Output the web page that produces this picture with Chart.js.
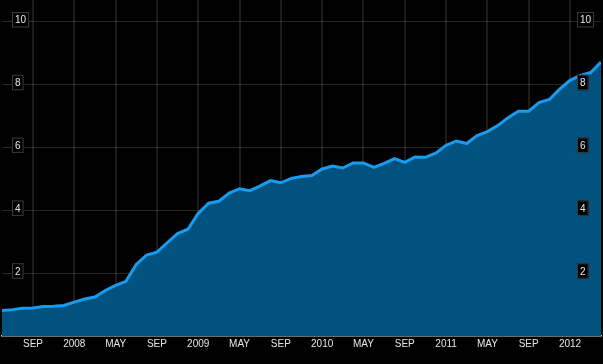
<!DOCTYPE html>
<html>
<head>
<meta charset="utf-8">
<script src="https://cdn.jsdelivr.net/npm/chart.js@4"></script>
<style>
  html, body { margin: 0; padding: 0; background: #000; }
  #wrap { width: 603px; height: 364px; }
</style>
</head>
<body>
<div id="wrap"><canvas id="data-chart" width="603" height="364"></canvas></div>
<script>
const FONT = "'Liberation Sans Narrow', 'Liberation Sans', sans-serif";

// monthly values, Jun 2007 .. Apr 2012
const values = [
    0.81, 0.84, 0.88, 0.89, 0.94, 0.95, 0.97, 1.08, 1.18, 1.24,
    1.45, 1.61, 1.74, 2.28, 2.58, 2.67, 2.97, 3.26, 3.40, 3.90,
    4.23, 4.29, 4.55, 4.69, 4.63, 4.78, 4.95, 4.88, 5.02, 5.08,
    5.11, 5.32, 5.41, 5.35, 5.51, 5.51, 5.37, 5.50, 5.65, 5.53,
    5.70, 5.69, 5.82, 6.07, 6.21, 6.13, 6.38, 6.51, 6.70, 6.95,
    7.16, 7.16, 7.43, 7.53, 7.86, 8.14, 8.30, 8.39, 8.72
];

// x tick positions (month index) and their labels
const xTickPos = [3, 7, 11, 15, 19, 23, 27, 31, 35, 39, 43, 47, 51, 55];
const xTickLabels = ["SEP", "2008", "MAY", "SEP", "2009", "MAY", "SEP", "2010", "MAY", "SEP", "2011", "MAY", "SEP", "2012"];

const yTicks = [2, 4, 6, 8, 10];

// boxed y labels drawn on both sides, inside the plot
const boxLabels = {
    id: "boxLabels",
    afterDraw(chart) {
        const c = chart.ctx;
        const y = chart.scales.y;
        c.save();
        c.font = "10px " + FONT;
        c.textBaseline = "alphabetic";
        c.textAlign = "left";
        yTicks.forEach(v => {
            const gy = y.getPixelForValue(v);
            const txt = String(v);
            const w = c.measureText(txt).width;
            [12, 577].forEach(bx => {
                c.fillStyle = "#000";
                c.fillRect(bx, gy - 10, w + 6, 15.5);
                c.strokeStyle = "#3a3a3a";
                c.lineWidth = 1;
                c.strokeRect(bx + 0.5, gy - 9.5, w + 5, 14.5);
                c.fillStyle = "#e6e6e6";
                c.fillText(txt, bx + 3, gy + 1.5);
            });
        });
        c.restore();
    }
};

const ctx = document.getElementById("data-chart").getContext("2d");

const config = {
    type: "line",
    data: {
        datasets: [{
            data: values.map((v, i) => ({ x: i, y: v })),
            borderColor: "#179cf0",
            backgroundColor: "#02527f",
            borderWidth: 3,
            pointRadius: 0,
            tension: 0,
            fill: "start"
        }]
    },
    plugins: [boxLabels],
    options: {
        responsive: false,
        animation: false,
        layout: {
            padding: { left: 2, right: 2, top: 0, bottom: 12 }
        },
        plugins: {
            legend: { display: false },
            tooltip: { enabled: false }
        },
        scales: {
            x: {
                type: "linear",
                min: 0,
                max: values.length - 1,
                z: 1,
                afterBuildTicks: s => { s.ticks = xTickPos.map(v => ({ value: v })); },
                grid: {
                    color: "rgba(80, 80, 80, 0.35)",
                    lineWidth: 2,
                    drawTicks: false
                },
                border: {
                    display: true,
                    color: "#d8d8d8",
                    width: 1.5
                },
                ticks: {
                    autoSkip: false,
                    maxRotation: 0,
                    padding: 2,
                    color: "#e6e6e6",
                    font: { family: FONT, size: 10 },
                    callback: (v) => {
                        const k = xTickPos.indexOf(v);
                        return k >= 0 ? xTickLabels[k] : "";
                    }
                }
            },
            y: {
                min: 0,
                max: 10.7,
                z: 1,
                afterBuildTicks: s => { s.ticks = yTicks.map(v => ({ value: v })); },
                grid: {
                    color: "rgba(110, 110, 110, 0.35)",
                    lineWidth: 1,
                    drawTicks: false
                },
                border: { display: false },
                ticks: { display: false }
            }
        }
    }
};

const chart = new Chart(ctx, config);
</script>
</body>
</html>
